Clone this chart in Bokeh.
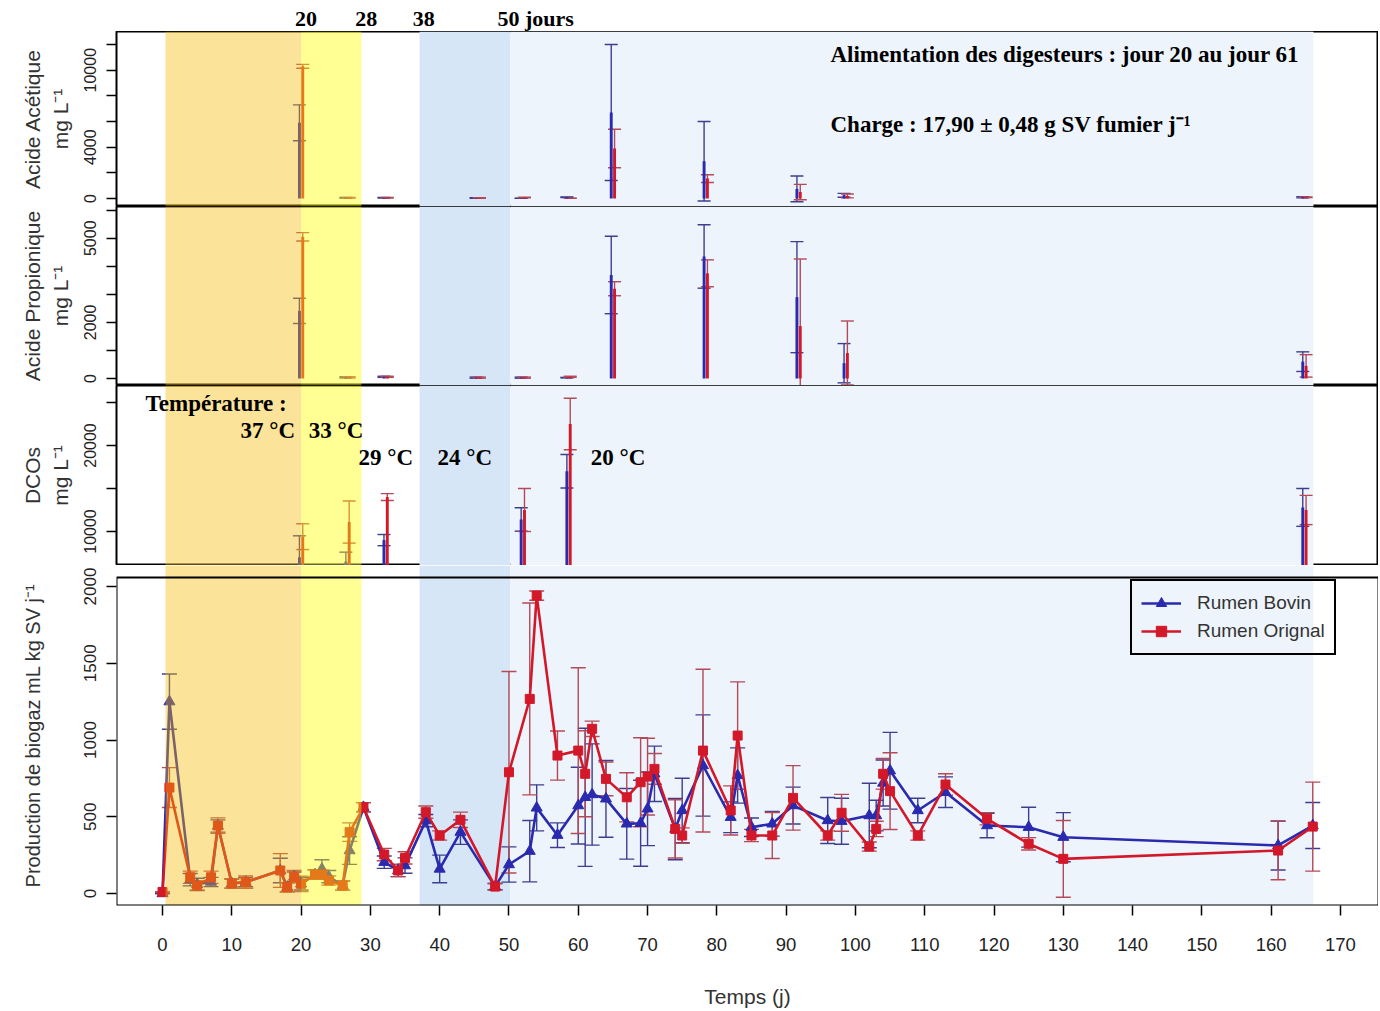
from bokeh.plotting import figure
from bokeh.layouts import column
from bokeh.models import (ColumnDataSource, Range1d, FixedTicker, BoxAnnotation, Whisker,
                          TeeHead, Label, Legend, LegendItem)
from bokeh.transform import dodge
from bokeh.embed import file_html
from bokeh.resources import INLINE

# ------------------------------------------------------------------ data
# experimental phases (day boundaries)
phase_orange = [0.43, 20.0]     # 37 °C
phase_yellow = [20.0, 28.7]     # 33 °C
phase_blue = [37.1, 50.2]       # 24 °C
phase_pale = [50.2, 166.1]      # 20 °C

# Acide acétique (mg/L)
acet_days = [20, 26.7, 32.2, 45.5, 52, 58.6, 65, 78.4, 91.8, 98.6, 164.8]
acet_bovin = [5900, 60, 60, 40, 20, 100, 6700, 2900, 750, 250, 100]
acet_bovin_err = [1400, 30, 30, 30, 10, 20, 5300, 3100, 1000, 150, 50]
acet_orignal = [10300, 60, 60, 40, 80, 20, 3900, 1550, 500, 200, 100]
acet_orignal_err = [150, 30, 30, 30, 20, 10, 1500, 300, 600, 150, 30]

# Acide propionique (mg/L)
prop_days = [20, 26.7, 32.2, 45.5, 52, 58.6, 65, 78.4, 91.8, 98.6, 164.8]
prop_bovin = [2410, 40, 60, 30, 30, 30, 3690, 4350, 2900, 545, 600]
prop_bovin_err = [450, 20, 20, 20, 20, 10, 1380, 1130, 1980, 700, 350]
prop_orignal = [5050, 40, 60, 30, 30, 60, 3200, 3750, 1870, 910, 450]
prop_orignal_err = [150, 20, 20, 20, 20, 20, 250, 480, 2390, 1140, 400]

# DCOs (mg/L)
dco_days = [20, 26.7, 32.2, 52, 58.6, 164.8]
dco_bovin = [7000, 6500, 9000, 11400, 17000, 12800]
dco_bovin_err = [2500, 1100, 650, 1360, 1950, 2200]
dco_orignal = [9400, 11100, 14000, 12500, 22500, 12500]
dco_orignal_err = [1500, 2450, 400, 2500, 3000, 1700]

# Production de biogaz (mL / kg SV / j)
bio_days = [0, 1, 4, 5, 7, 8, 10, 12, 17, 18, 19, 20, 22, 23, 24, 26, 27, 29, 32, 34,
            35, 38, 40, 43, 48, 50, 53, 54, 57, 60, 61, 62, 64, 67, 69, 70, 71, 74, 75, 78,
            82, 83, 85, 88, 91, 96, 98, 102, 103, 104, 105, 109, 113, 119, 125, 130, 161, 166]
bio_bovin = [0, 1250, 90, 60, 75, 440, 65, 74, 150, 41, 110, 63, 124, 160, 110, 52, 280, 562, 204, 150,
             182, 475, 160, 400, 45, 189, 276, 558, 380, 573, 627, 645, 617, 454, 458, 552, 780, 420, 541, 834,
             497, 769, 432, 454, 573, 476, 471, 508, 508, 720, 800, 541, 660, 443, 432, 367, 313, 443]
bio_bovin_err = [0, 180, 40, 40, 30, 40, 30, 30, 80, 30, 30, 40, 30, 60, 40, 30, 90, 30, 40, 40,
                 50, 40, 90, 80, 20, 115, 200, 150, 80, 250, 450, 330, 250, 230, 280, 240, 180, 200, 210, 330,
                 100, 180, 60, 80, 120, 150, 150, 210, 100, 150, 250, 80, 100, 80, 130, 160, 160, 150]
bio_orignal = [10, 690, 106, 52, 106, 443, 65, 74, 150, 41, 110, 63, 124, 124, 85, 52, 400, 562, 254, 150,
               232, 530, 378, 480, 45, 790, 1268, 1941, 899, 931, 780, 1073, 747, 627, 725, 762, 812, 421, 378, 931,
               541, 1029, 378, 378, 623, 378, 526, 306, 421, 780, 667, 378, 710, 487, 324, 226, 280, 436]
bio_orignal_err = [0, 130, 40, 30, 40, 50, 30, 40, 110, 30, 40, 50, 30, 30, 30, 30, 60, 30, 40, 40,
                   40, 40, 30, 50, 20, 656, 625, 30, 160, 540, 280, 50, 110, 160, 290, 250, 100, 190, 50, 530,
                   160, 350, 40, 150, 210, 30, 120, 30, 50, 100, 250, 30, 70, 40, 40, 250, 190, 290]

x_ticks = list(range(0, 171, 10))

# ------------------------------------------------------------------ style
BLUE = "#2A2AAE"
RED = "#D3182A"
BLUE_ERR = "#3E3E8E"
RED_ERR = "#B44A57"
SANS = "Liberation Sans"
SERIF = "Liberation Serif"
FRAME_W = 1262
LEFT_B = 116

xr = Range1d(-6.64, 175.49)


def make_fig(yr, frame_h, with_x=False, with_y=True):
    p = figure(x_range=xr, y_range=yr, frame_width=FRAME_W, frame_height=frame_h,
               min_border_left=LEFT_B, min_border_right=0, min_border_top=0,
               min_border_bottom=0, output_backend="svg", toolbar_location=None,
               x_axis_location="below" if with_x else None,
               y_axis_location="left" if with_y else None,
               background_fill_color="white", border_fill_color="white")
    p.grid.visible = False
    p.outline_line_color = "black"
    p.outline_line_width = 2
    p.outline_line_alpha = 1.0
    return p


def style_yaxis(p, ticks, shown, label, size="16px", standoff=10, label_size="21px"):
    ax = p.yaxis[0]
    ax.ticker = FixedTicker(ticks=ticks)
    ax.major_label_overrides = {t: "" for t in ticks if t not in shown}
    ax.major_label_orientation = "vertical"
    ax.major_tick_out = 10
    ax.major_tick_in = 0
    ax.major_tick_line_width = 1.5
    ax.major_tick_line_color = "black"
    ax.minor_tick_line_color = None
    ax.axis_line_color = None
    ax.major_label_standoff = 10
    ax.major_label_text_font = SANS
    ax.major_label_text_font_size = size
    ax.major_label_text_color = "#222222"
    ax.axis_label = label
    ax.axis_label_text_font = SANS
    ax.axis_label_text_font_style = "normal"
    ax.axis_label_text_font_size = label_size
    ax.axis_label_text_color = "#333333"
    ax.axis_label_standoff = standoff


def add_under_bands(p):
    p.add_layout(BoxAnnotation(left=phase_blue[0], right=phase_blue[1], fill_color="#D6E6F7",
                               fill_alpha=1.0, line_color=None, level="underlay"))
    p.add_layout(BoxAnnotation(left=phase_pale[0], right=phase_pale[1], fill_color="#EEF4FC",
                               fill_alpha=1.0, line_color=None, level="underlay"))


def add_over_bands(p):
    p.add_layout(BoxAnnotation(left=phase_orange[0], right=phase_orange[1], fill_color="#F5B800",
                               fill_alpha=0.40, line_color=None))
    p.add_layout(BoxAnnotation(left=phase_yellow[0], right=phase_yellow[1], fill_color="#FFFF00",
                               fill_alpha=0.42, line_color=None))


def whisker(src, base, lo, hi, color, cap):
    return Whisker(source=src, base=base, lower=lo, upper=hi, line_color=color, line_width=1.4,
                   lower_head=TeeHead(size=cap, line_color=color, line_width=1.4),
                   upper_head=TeeHead(size=cap, line_color=color, line_width=1.4),
                   level="underlay")


def bar_panel(p, days, bov, bov_err, ori, ori_err):
    src = ColumnDataSource(dict(
        day=days, bov=bov, ori=ori,
        bov_lo=[v - e for v, e in zip(bov, bov_err)], bov_hi=[v + e for v, e in zip(bov, bov_err)],
        ori_lo=[v - e for v, e in zip(ori, ori_err)], ori_hi=[v + e for v, e in zip(ori, ori_err)]))
    for key, col, ecol, off in (("bov", BLUE, BLUE_ERR, -0.24), ("ori", RED, RED_ERR, 0.24)):
        p.add_layout(whisker(src, dodge("day", off), key + "_lo", key + "_hi", ecol, 13))
    for key, col, off in (("bov", BLUE, -0.24), ("ori", RED, 0.24)):
        p.vbar(x=dodge("day", off), top=key, bottom=0, width=0.42, source=src,
               fill_color=col, line_color=None)


def serif_label(p, x, y, text, size="23px", align="left"):
    p.add_layout(Label(x=x, y=y, text=text, text_align=align, text_baseline="middle",
                       text_font=SERIF, text_font_style="bold", text_font_size=size,
                       text_color="black"))


# ------------------------------------------------------------------ header strip (phase days)
p0 = make_fig(Range1d(0, 31), 31, with_y=False)
p0.outline_line_color = None
serif_label(p0, 20.7, 13, "20", size="22px", align="center")
serif_label(p0, 29.4, 13, "28", size="22px", align="center")
serif_label(p0, 37.7, 13, "38", size="22px", align="center")
serif_label(p0, 48.35, 13, "50 jours", size="22px")

# ------------------------------------------------------------------ panel 1
p1 = make_fig(Range1d(-623, 13015), 175)
add_under_bands(p1)
bar_panel(p1, acet_days, acet_bovin, acet_bovin_err, acet_orignal, acet_orignal_err)
add_over_bands(p1)
style_yaxis(p1, list(range(0, 12001, 2000)), [0, 4000, 10000], "Acide Acétique\nmg L⁻¹")
serif_label(p1, 96.4, 11223, "Alimentation des digesteurs  : jour 20 au jour 61")
serif_label(p1, 96.4, 5768, "Charge : 17,90 ±  0,48 g SV fumier j⁻¹")

# ------------------------------------------------------------------ panel 2
p2 = make_fig(Range1d(-250, 6132), 179)
add_under_bands(p2)
bar_panel(p2, prop_days, prop_bovin, prop_bovin_err, prop_orignal, prop_orignal_err)
add_over_bands(p2)
style_yaxis(p2, list(range(0, 6001, 1000)), [0, 2000, 5000], "Acide Propionique\nmg L⁻¹")

# ------------------------------------------------------------------ panel 3
p3 = make_fig(Range1d(6047, 26977), 180)
add_under_bands(p3)
bar_panel(p3, dco_days, dco_bovin, dco_bovin_err, dco_orignal, dco_orignal_err)
add_over_bands(p3)
style_yaxis(p3, [10000, 15000, 20000, 25000], [10000, 20000], "DCOs\nmg L⁻¹")
serif_label(p3, -2.45, 24888, "Température :")
serif_label(p3, 11.26, 21747, "37 °C")
serif_label(p3, 21.1, 21747, "33 °C")
serif_label(p3, 28.3, 18607, "29 °C")
serif_label(p3, 39.7, 18607, "24 °C")
serif_label(p3, 61.8, 18607, "20 °C")

# ------------------------------------------------------------------ panel 4
p4 = make_fig(Range1d(-78, 2137), 340, with_x=True)
p4.outline_line_color = None
add_under_bands(p4)
bsrc = ColumnDataSource(dict(
    day=bio_days, bov=bio_bovin, ori=bio_orignal,
    bov_lo=[v - e for v, e in zip(bio_bovin, bio_bovin_err)],
    bov_hi=[v + e for v, e in zip(bio_bovin, bio_bovin_err)],
    ori_lo=[v - e for v, e in zip(bio_orignal, bio_orignal_err)],
    ori_hi=[v + e for v, e in zip(bio_orignal, bio_orignal_err)]))
p4.add_layout(whisker(bsrc, "day", "bov_lo", "bov_hi", BLUE_ERR, 15))
p4.add_layout(whisker(bsrc, "day", "ori_lo", "ori_hi", RED_ERR, 15))
bl = p4.line("day", "bov", source=bsrc, line_color=BLUE, line_width=2.6)
bs = p4.scatter("day", "bov", source=bsrc, marker="triangle", size=11,
                fill_color=BLUE, line_color=BLUE)
rl = p4.line("day", "ori", source=bsrc, line_color=RED, line_width=2.6)
rs = p4.scatter("day", "ori", source=bsrc, marker="square", size=9,
                fill_color=RED, line_color=RED)
add_over_bands(p4)
p4.add_layout(BoxAnnotation(top=2059, fill_alpha=0, line_color="black", line_alpha=1.0,
                            line_width=2))
style_yaxis(p4, [0, 500, 1000, 1500, 2000], [0, 500, 1000, 1500, 2000],
            "Production de biogaz mL kg SV j⁻¹", size="17px", standoff=38, label_size="20px")
xa = p4.xaxis[0]
xa.ticker = FixedTicker(ticks=x_ticks)
xa.major_tick_out = 10
xa.major_tick_in = 0
xa.major_tick_line_width = 1.5
xa.major_tick_line_color = "black"
xa.minor_tick_line_color = None
xa.axis_line_color = None
xa.major_label_standoff = 22
xa.major_label_text_font = SANS
xa.major_label_text_font_size = "18.5px"
xa.major_label_text_color = "#222222"
xa.axis_label = "Temps (j)"
xa.axis_label_text_font = SANS
xa.axis_label_text_font_style = "normal"
xa.axis_label_text_font_size = "21px"
xa.axis_label_text_color = "#333333"
xa.axis_label_standoff = 31

legend = Legend(items=[LegendItem(label="Rumen Bovin", renderers=[bl, bs]),
                       LegendItem(label="Rumen Orignal", renderers=[rl, rs])],
                location=(1014, 250), orientation="vertical",
                background_fill_alpha=0, border_line_color="black", border_line_width=2,
                border_line_alpha=1.0,
                label_text_font=SANS, label_text_font_size="19px", label_text_color="#333333",
                glyph_width=40, glyph_height=26, label_height=26, label_standoff=16,
                padding=9, spacing=2, margin=0)
p4.add_layout(legend)

layout = column(p0, p1, p2, p3, p4, spacing=0)
open("out.html", "w").write(file_html(layout, INLINE))
